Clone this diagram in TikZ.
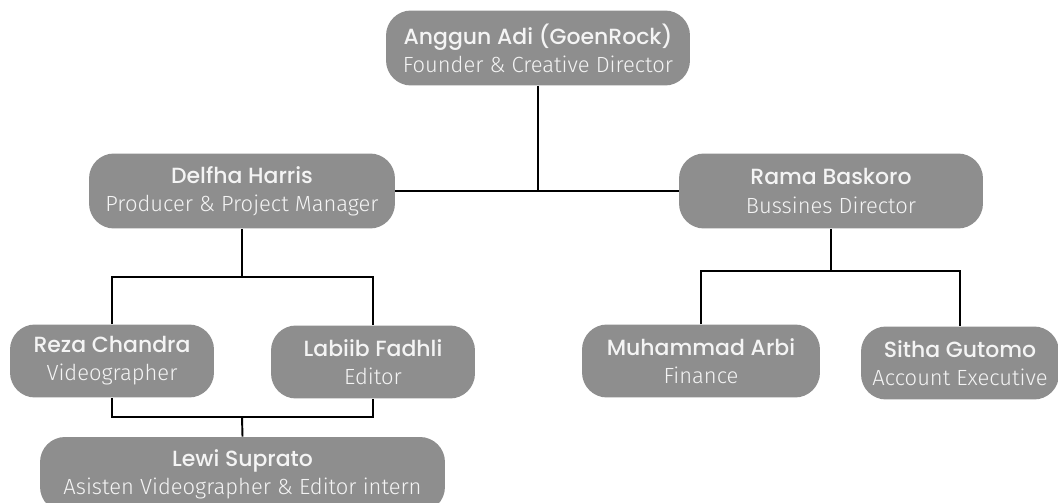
\documentclass[tikz,border=0pt]{standalone}
\usepackage{fontspec}
\newfontfamily\namefont[UprightFont={* Medium}]{Poppins}
\newfontfamily\rolefont[UprightFont={* Light}]{Fira Sans}
\usetikzlibrary{positioning}
\definecolor{boxgray}{HTML}{8E8E8E}
\definecolor{textgray}{HTML}{F4F4F4}
\tikzset{
	person/.style={fill=boxgray, text=textgray, rounded corners=0.5cm, align=center,
		minimum height=1.5cm, inner sep=0pt, font=\fontsize{12.5}{16}\selectfont},
	link/.style={line width=1.1pt, black}
}

\begin{document}
\begin{tikzpicture}[x=0.02cm, y=-0.02cm]
\clip (0,0) rectangle (1058,503);
\useasboundingbox (0,0) rectangle (1058,503);
\node[person, minimum width=6.08cm] (anggun) at (538,48) {{\namefont Anggun Adi (GoenRock)}\\{\rolefont Founder \& Creative Director}};
\node[person, minimum width=6.12cm] (delfha) at (242,191) {{\namefont Delfha Harris}\\{\rolefont Producer \& Project Manager}};
\node[person, minimum width=6.08cm] (rama) at (831,191) {{\namefont Rama Baskoro}\\{\rolefont Bussines Director}};
\node[person, minimum width=4.08cm, minimum height=1.46cm] (reza) at (112,361) {{\namefont Reza Chandra}\\{\rolefont Videographer}};
\node[person, minimum width=4.08cm, minimum height=1.46cm] (labiib) at (373,362) {{\namefont Labiib Fadhli}\\{\rolefont Editor}};
\node[person, minimum width=8.1cm] (lewi) at (242.5,474.5) {{\namefont Lewi Suprato}\\{\rolefont Asisten Videographer \& Editor intern}};
\node[person, minimum width=4.76cm, minimum height=1.46cm] (muhammad) at (701,361) {{\namefont Muhammad Arbi}\\{\rolefont Finance}};
\node[person, minimum width=3.96cm, minimum height=1.46cm] (sitha) at (960,363) {{\namefont Sitha Gutomo}\\{\rolefont Account Executive}};
% joints
\coordinate (dj) at (242,277);
\coordinate (rj) at (831,271);
\coordinate (lj) at (242,417);
\draw[link] (anggun.south) -- (anggun.south |- delfha.east);
\draw[link] (delfha.east) -- (rama.west);
\draw[link] (delfha.south) -- (dj);
\draw[link] (reza.north) |- (dj) -| (labiib.north);
\draw[link] (rama.south) -- (rj);
\draw[link] (muhammad.north) |- (rj) -| (sitha.north);
\draw[link] (reza.south) |- (lj) -| (labiib.south);
\draw[link] (lj) -- (lewi.north);
\end{tikzpicture}
\end{document}
